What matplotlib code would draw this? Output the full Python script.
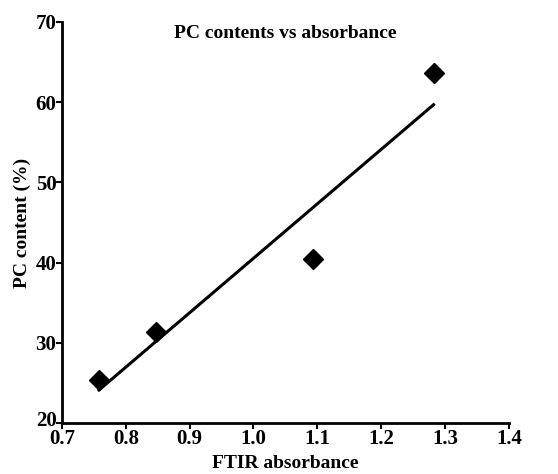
import numpy as np
import matplotlib.pyplot as plt
import matplotlib.transforms as mtransforms

plt.rcParams['font.family'] = ['Liberation Serif', 'DejaVu Serif']
plt.rcParams['font.weight'] = 'bold'

# data
absorbance = [0.758, 0.847, 1.093, 1.282]
pc_content = [25.4, 31.4, 40.4, 63.6]
xticks = [0.7, 0.8, 0.9, 1.0, 1.1, 1.2, 1.3, 1.4]
yticks = [20, 30, 40, 50, 60, 70]

fig = plt.figure(figsize=(5.58, 4.74), dpi=100)
ax = fig.add_axes([0.111, 0.1076, 0.801, 0.846])

x = np.array(absorbance)
y = np.array(pc_content)
slope, intercept = np.polyfit(x, y, 1)
xfit = np.array([x.min(), x.max()])
ax.plot(xfit, slope * xfit + intercept, color='black', lw=2.2, zorder=2)
ax.plot(x, y, 'D', color='black', markersize=10, zorder=3)

ax.set_xlim(0.7, 1.4)
ax.set_ylim(20, 70)
ax.set_xticks(xticks)
ax.set_xticklabels([f"{t:.1f}" for t in xticks])
ax.set_yticks(yticks)

for side in ['top', 'right']:
    ax.spines[side].set_visible(False)
for side in ['left', 'bottom']:
    ax.spines[side].set_linewidth(2)
ax.tick_params(axis='both', direction='out', length=4, width=1.5,
               labelsize=15, pad=0)

# lift the "20" label so it sits above the 0.7 label like in the original
fig.canvas.draw()
lbl = ax.get_yticklabels()[0]
lbl.set_transform(lbl.get_transform() +
                  mtransforms.ScaledTranslation(0, 3.5 / 72, fig.dpi_scale_trans))

ax.set_xlabel("FTIR absorbance", fontsize=14, fontweight='bold', labelpad=5)
ax.set_ylabel("PC content (%)", fontsize=14, fontweight='bold', labelpad=3)
ax.set_title("PC contents vs absorbance", fontsize=14, fontweight='bold',
             y=0.94)

plt.savefig("out.png", dpi=100)
